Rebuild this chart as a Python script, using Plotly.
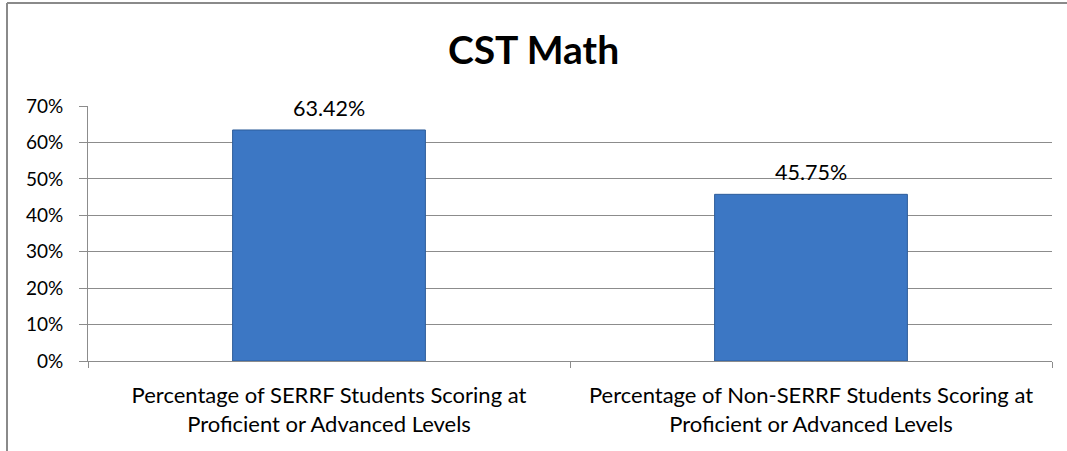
import plotly.graph_objects as go

categories = [
    "Percentage of SERRF Students Scoring at<br>Proficient or Advanced Levels",
    "Percentage of Non-SERRF Students Scoring at<br>Proficient or Advanced Levels",
]
values = [0.6342, 0.4575]
value_labels = ["63.42%", "45.75%"]
tick_vals = [0, 0.1, 0.2, 0.3, 0.4, 0.5, 0.6, 0.7]
tick_text = ["0%", "10%", "20%", "30%", "40%", "50%", "60%", "70%"]

FONT = "Lato"
GRID = "#8c8c8c"

fig = go.Figure()
fig.add_trace(go.Bar(
    x=categories,
    y=values,
    width=0.4,
    marker=dict(color="#3c77c4", line=dict(color="#2e5d9a", width=1)),
    hoverinfo="skip",
))

for c, v, t in zip(categories, values, value_labels):
    fig.add_annotation(
        x=c, y=v, text=t, showarrow=False, yanchor="bottom", yshift=7,
        font=dict(family=FONT, size=21.5, color="#000000"),
    )

fig.update_layout(
    width=1067, height=451,
    margin=dict(l=88, r=15, t=106, b=90),
    paper_bgcolor="white", plot_bgcolor="white",
    showlegend=False,
    title=dict(
        text="<b>CST Math</b>", x=0.5, xanchor="center",
        y=1 - 50 / 451, yanchor="middle",
        font=dict(family=FONT, size=39, color="#000000"),
    ),
    font=dict(family=FONT, size=17, color="#000000"),
    bargap=0.6,
)

fig.update_yaxes(
    range=[0, 0.7], tickvals=tick_vals, ticktext=tick_text,
    showgrid=True, gridcolor=GRID, gridwidth=1,
    showline=True, linecolor=GRID, linewidth=1,
    ticks="outside", ticklen=8, tickcolor=GRID,
    ticklabelstandoff=12,
    zeroline=False,
    tickfont=dict(family=FONT, size=19, color="#000000"),
)
fig.update_xaxes(
    showgrid=False, showline=True, linecolor=GRID, linewidth=1,
    ticks="outside", ticklen=6, tickcolor=GRID, tickson="boundaries",
    ticklabelstandoff=15, tickangle=0,
    tickfont=dict(family=FONT, size=22, color="#000000"),
)

# chart border (partially visible frame)
fig.add_shape(type="line", xref="paper", yref="paper",
              x0=-81 / 964, x1=1.2, y0=1 + 103 / 255, y1=1 + 103 / 255,
              line=dict(color="#8a8a8a", width=2))
fig.add_shape(type="line", xref="paper", yref="paper",
              x0=-81 / 964, x1=-81 / 964, y0=1 + 103 / 255, y1=-0.5,
              line=dict(color="#8a8a8a", width=2))

fig.write_html("out.html", config={"displayModeBar": False},
               post_script="document.body.style.margin='0';")
